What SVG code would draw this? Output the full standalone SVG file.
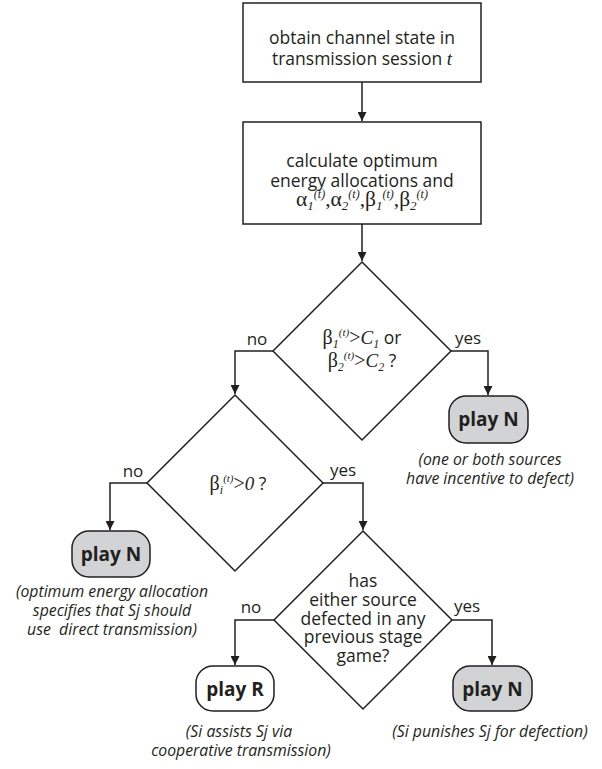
<svg xmlns="http://www.w3.org/2000/svg" width="602" height="769" viewBox="0 0 602 769">
<style>
.sh{fill:#fff;stroke:#231f20;stroke-width:1.5}
.nt{fill:#d1d3d4;stroke:#231f20;stroke-width:1.5}
.ln{fill:none;stroke:#231f20;stroke-width:1.5}
text{font-family:"Open Sans","Liberation Sans",sans-serif;fill:#231f20;text-anchor:middle}
.t{font-size:17.5px}
.lb{font-size:17px}
.b{font-size:19px;font-weight:bold}
.cap{font-size:15.8px;font-style:italic}
.gk{font-family:"Liberation Serif",serif;font-size:20px;font-style:normal}
.gk2{font-family:"Liberation Serif",serif;font-size:21.5px;font-style:normal}
.it{font-family:"Liberation Serif",serif;font-size:19px;font-style:italic}
.sub{font-family:"Liberation Serif",serif;font-size:12px;font-style:italic}
.sup{font-family:"Liberation Serif",serif;font-size:11px;font-style:italic}
.sub2{font-family:"Liberation Serif",serif;font-size:13px;font-style:italic}
.sup2{font-family:"Liberation Serif",serif;font-size:12px;font-style:italic}
</style>
<defs>
<marker id="ah" markerWidth="9" markerHeight="9" refX="9" refY="4.5" orient="auto" markerUnits="userSpaceOnUse">
<path d="M0,0 L9,4.5 L0,9 Z" fill="#231f20"/>
</marker>
</defs>

<g id="connectors">
<path class="ln" d="M362,82 V121" marker-end="url(#ah)"/>
<path class="ln" d="M362,224 V261" marker-end="url(#ah)"/>
<path class="ln" d="M273,351 H235 V394" marker-end="url(#ah)"/>
<path class="ln" d="M451,351 H488 V395" marker-end="url(#ah)"/>
<path class="ln" d="M147,483 H110 V530" marker-end="url(#ah)"/>
<path class="ln" d="M323,483 H363 V530" marker-end="url(#ah)"/>
<path class="ln" d="M274,620 H235 V665" marker-end="url(#ah)"/>
<path class="ln" d="M452,620 H492 V665" marker-end="url(#ah)"/>
</g>

<g id="obtain">
<rect class="sh" x="243" y="3" width="238" height="79"/>
<text class="t" x="362" y="44">obtain channel state in</text>
<text class="t" x="362" y="65">transmission session <tspan class="it">t</tspan></text>
</g>

<g id="calculate">
<rect class="sh" x="243" y="122" width="238" height="102"/>
<text class="t" x="362" y="167">calculate optimum</text>
<text class="t" x="362" y="187">energy allocations and</text>
<text class="t" x="362" y="206"><tspan class="gk2">α</tspan><tspan class="sub2" dy="4">1</tspan><tspan class="sup2" dy="-12">(t)</tspan><tspan class="gk2" dy="8">,α</tspan><tspan class="sub2" dy="4">2</tspan><tspan class="sup2" dy="-12">(t)</tspan><tspan class="gk2" dy="8">,β</tspan><tspan class="sub2" dy="4">1</tspan><tspan class="sup2" dy="-12">(t)</tspan><tspan class="gk2" dy="8">,β</tspan><tspan class="sub2" dy="4">2</tspan><tspan class="sup2" dy="-12">(t)</tspan></text>
</g>

<g id="decision1">
<polygon class="sh" points="362,262 451,351 362,440 273,351"/>
<text class="t" x="362" y="344"><tspan class="gk">β</tspan><tspan class="sub" dy="4">1</tspan><tspan class="sup" dy="-12">(t)</tspan><tspan class="gk" dy="8">&gt;</tspan><tspan class="it">C</tspan><tspan class="sub" dy="4">1</tspan><tspan dy="-4"> or</tspan></text>
<text class="t" x="362" y="367"><tspan class="gk">β</tspan><tspan class="sub" dy="4">2</tspan><tspan class="sup" dy="-12">(t)</tspan><tspan class="gk" dy="8">&gt;</tspan><tspan class="it">C</tspan><tspan class="sub" dy="4">2</tspan><tspan dy="-4"> ?</tspan></text>
<text class="lb" x="257" y="345">no</text>
<text class="lb" x="468" y="344">yes</text>
</g>

<g id="playN1">
<rect class="nt" x="449" y="396" width="79" height="47" rx="17"/>
<text class="b" x="488.5" y="426">play N</text>
<text class="cap" x="490" y="465">(one or both sources</text>
<text class="cap" x="490" y="484">have incentive to defect)</text>
</g>

<g id="decision2">
<polygon class="sh" points="235,395 323,483 235,571 147,483"/>
<text class="t" x="238" y="490"><tspan class="gk">β</tspan><tspan class="sub" dy="4">i</tspan><tspan class="sup" dy="-12">(t)</tspan><tspan class="gk" dy="8">&gt;</tspan><tspan class="it">0</tspan><tspan> ?</tspan></text>
<text class="lb" x="133" y="477">no</text>
<text class="lb" x="343" y="476">yes</text>
</g>

<g id="playN2">
<rect class="nt" x="72" y="531" width="78" height="46" rx="17"/>
<text class="b" x="111" y="561">play N</text>
<text class="cap" x="112" y="597">(optimum energy allocation</text>
<text class="cap" x="112" y="616">specifies that Sj should</text>
<text class="cap" x="112" y="635" style="white-space:pre">use  direct transmission)</text>
</g>

<g id="decision3">
<polygon class="sh" points="363,531 452,620 363,709 274,620"/>
<text class="t" x="363" y="587">has</text>
<text class="t" x="363" y="606">either source</text>
<text class="t" x="363" y="624.5">defected in any</text>
<text class="t" x="363" y="643">previous stage</text>
<text class="t" x="363" y="662">game?</text>
<text class="lb" x="251" y="613">no</text>
<text class="lb" x="467" y="612">yes</text>
</g>

<g id="playR">
<rect class="sh" x="196" y="666" width="78" height="45" rx="17"/>
<text class="b" x="235" y="696">play R</text>
<text class="cap" x="239" y="737">(Si assists Sj via</text>
<text class="cap" x="241" y="756">cooperative transmission)</text>
</g>

<g id="playN3">
<rect class="nt" x="453" y="666" width="79" height="45" rx="17"/>
<text class="b" x="492.5" y="696">play N</text>
<text class="cap" x="490" y="737">(Si punishes Sj for defection)</text>
</g>
</svg>
